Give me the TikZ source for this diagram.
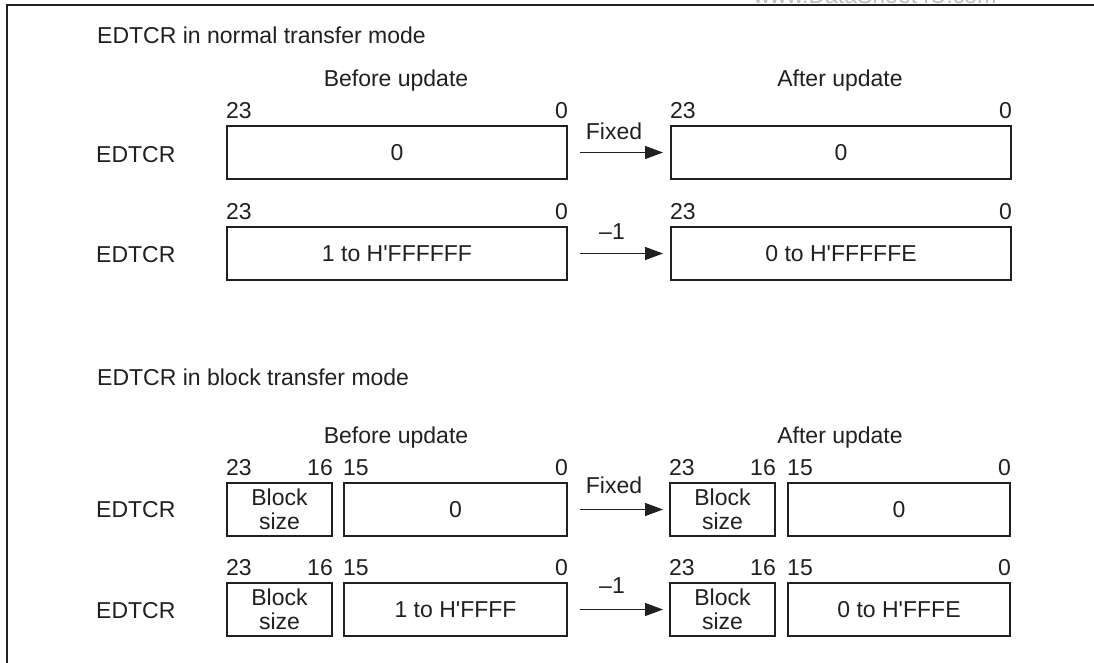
\documentclass[tikz,border=0pt]{standalone}
\usepackage{fontspec}
\setmainfont{Liberation Sans}
\usetikzlibrary{arrows.meta}
\definecolor{ink}{HTML}{231F20}
\definecolor{wmgray}{HTML}{BDBDBD}
\newcommand\labfont{\fontsize{23}{24}\selectfont}
\newcommand\apo{\textquotesingle}
\begin{document}
\begin{tikzpicture}[x=1pt,y=-1pt,
  reg/.style={draw=ink, line width=2pt, inner sep=0pt, text=ink, font=\labfont, align=center, anchor=north west, minimum height=53pt},
  lbl/.style={font=\labfont, text=ink, inner sep=0pt},
  arr/.style={-{Triangle[length=18pt,width=13pt]}, line width=1.3pt, draw=ink},
  frame/.style={draw=ink, line width=2.5pt}]
\useasboundingbox (0,0) rectangle (1094,662);
% frame and watermark
\node[font=\labfont, text=wmgray, inner sep=0pt, anchor=base] (wm) at (875,3) {www.DataSheet4U.com};
\coordinate (fb) at (7,670);
\coordinate (fc) at (7,5);
\coordinate (fr) at (1100,5);
\draw[frame] (fb) -- (fc) -- (fr);

% ---------- normal transfer mode ----------
\node[lbl, anchor=base west] (t1) at (97,43) {EDTCR in normal transfer mode};
\node[lbl, anchor=base] (bu1) at (396,86) {Before update};
\node[lbl, anchor=base] (au1) at (840,86) {After update};

% row 1
\node[lbl, anchor=base west] (e1) at (96,162) {EDTCR};
\node[reg, minimum width=340pt] (b1) at (226,125) {0};
\node[reg, minimum width=340pt] (a1) at (670,125) {0};
\node[lbl, anchor=south west] (b1l) at ([yshift=6pt]b1.north west) {23};
\node[lbl, anchor=south east] (b1r) at ([yshift=6pt]b1.north east) {0};
\node[lbl, anchor=south west] (a1l) at ([yshift=6pt]a1.north west) {23};
\node[lbl, anchor=south east] (a1r) at ([yshift=6pt]a1.north east) {0};
\draw[arr] ([xshift=12pt]b1.east) -- ([xshift=-7pt]a1.west);
\node[lbl, anchor=base] (f1) at (614,139) {Fixed};

% row 2
\node[lbl, anchor=base west] (e2) at (96,262) {EDTCR};
\node[reg, minimum width=340pt] (b2) at (226,226) {1 to H\apo FFFFFF};
\node[reg, minimum width=340pt] (a2) at (670,226) {0 to H\apo FFFFFE};
\node[lbl, anchor=south west] (b2l) at ([yshift=6pt]b2.north west) {23};
\node[lbl, anchor=south east] (b2r) at ([yshift=6pt]b2.north east) {0};
\node[lbl, anchor=south west] (a2l) at ([yshift=6pt]a2.north west) {23};
\node[lbl, anchor=south east] (a2r) at ([yshift=6pt]a2.north east) {0};
\draw[arr] ([xshift=12pt]b2.east) -- ([xshift=-7pt]a2.west);
\node[lbl, anchor=base] (m1) at (612,239) {–1};

% ---------- block transfer mode ----------
\node[lbl, anchor=base west] (t2) at (97,385) {EDTCR in block transfer mode};
\node[lbl, anchor=base] (bu2) at (396,443) {Before update};
\node[lbl, anchor=base] (au2) at (840,443) {After update};

% row 3
\node[lbl, anchor=base west] (e3) at (96,517) {EDTCR};
\node[reg, minimum width=105pt] (s3) at (226,482) {Block\\size};
\node[reg, minimum width=223pt] (b3) at (343,482) {0};
\node[reg, minimum width=105pt] (t3) at (669,482) {Block\\size};
\node[reg, minimum width=222pt] (a3) at (787,482) {0};
\node[lbl, anchor=south west] (s3l) at ([yshift=6pt]s3.north west) {23};
\node[lbl, anchor=south east] (s3r) at ([yshift=6pt]s3.north east) {16};
\node[lbl, anchor=south west] (b3l) at ([yshift=6pt]b3.north west) {15};
\node[lbl, anchor=south east] (b3r) at ([yshift=6pt]b3.north east) {0};
\node[lbl, anchor=south west] (t3l) at ([yshift=6pt]t3.north west) {23};
\node[lbl, anchor=south east] (t3r) at ([yshift=6pt]t3.north east) {16};
\node[lbl, anchor=south west] (a3l) at ([yshift=6pt]a3.north west) {15};
\node[lbl, anchor=south east] (a3r) at ([yshift=6pt]a3.north east) {0};
\draw[arr] ([xshift=12pt]b3.east) -- ([xshift=-6pt]t3.west);
\node[lbl, anchor=base] (f2) at (614,493) {Fixed};

% row 4
\node[lbl, anchor=base west] (e4) at (96,618) {EDTCR};
\node[reg, minimum width=105pt] (s4) at (226,582) {Block\\size};
\node[reg, minimum width=223pt] (b4) at (343,582) {1 to H\apo FFFF};
\node[reg, minimum width=105pt] (t4) at (669,582) {Block\\size};
\node[reg, minimum width=222pt] (a4) at (787,582) {0 to H\apo FFFE};
\node[lbl, anchor=south west] (s4l) at ([yshift=6pt]s4.north west) {23};
\node[lbl, anchor=south east] (s4r) at ([yshift=6pt]s4.north east) {16};
\node[lbl, anchor=south west] (b4l) at ([yshift=6pt]b4.north west) {15};
\node[lbl, anchor=south east] (b4r) at ([yshift=6pt]b4.north east) {0};
\node[lbl, anchor=south west] (t4l) at ([yshift=6pt]t4.north west) {23};
\node[lbl, anchor=south east] (t4r) at ([yshift=6pt]t4.north east) {16};
\node[lbl, anchor=south west] (a4l) at ([yshift=6pt]a4.north west) {15};
\node[lbl, anchor=south east] (a4r) at ([yshift=6pt]a4.north east) {0};
\draw[arr] ([xshift=12pt]b4.east) -- ([xshift=-6pt]t4.west);
\node[lbl, anchor=base] (m2) at (612,593) {–1};
\end{tikzpicture}
\end{document}
